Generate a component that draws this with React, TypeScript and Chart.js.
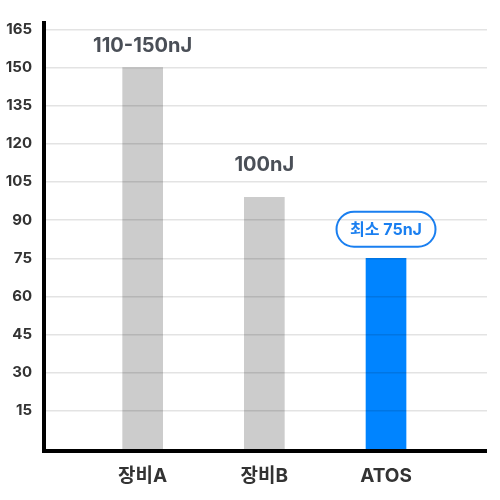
import React, { useEffect, useRef } from "react";
import { Chart, registerables } from "chart.js";

Chart.register(...registerables);

const categories = ["장비A", "장비B", "ATOS"];
const values = [150, 99, 75];
const valueLabels = ["110-150nJ", "100nJ", "최소 75nJ"];
const yTicks = [15, 30, 45, 60, 75, 90, 105, 120, 135, 150, 165];

const FONT = "Inter, 'Noto Sans CJK KR', sans-serif";

const labelPlugin = {
  id: "valueLabels",
  afterDatasetsDraw(chart: any) {
    const ctx = chart.ctx;
    const meta = chart.getDatasetMeta(0);
    const gaps = [22, 32, 29];
    ctx.save();
    meta.data.forEach((bar: any, i: number) => {
      const x = bar.x;
      const y = bar.y - gaps[i];
      const text = valueLabels[i];
      if (i === 2) {
        ctx.font = `bold 16px ${FONT}`;
        const w = 99;
        const h = 35;
        const r = h / 2;
        ctx.beginPath();
        ctx.moveTo(x - w / 2 + r, y - h / 2);
        ctx.lineTo(x + w / 2 - r, y - h / 2);
        ctx.arc(x + w / 2 - r, y, r, -Math.PI / 2, Math.PI / 2);
        ctx.lineTo(x - w / 2 + r, y + h / 2);
        ctx.arc(x - w / 2 + r, y, r, Math.PI / 2, (3 * Math.PI) / 2);
        ctx.closePath();
        ctx.fillStyle = "#ffffff";
        ctx.fill();
        ctx.lineWidth = 2;
        ctx.strokeStyle = "#1a7ff0";
        ctx.stroke();
        ctx.fillStyle = "#1a7ff0";
        ctx.textAlign = "center";
        ctx.textBaseline = "middle";
        ctx.fillText(text, x, y + 1);
      } else {
        ctx.font = `bold 20px ${FONT}`;
        ctx.fillStyle = "#4a4f57";
        ctx.textAlign = "center";
        ctx.textBaseline = "middle";
        ctx.fillText(text, x, y);
      }
    });
    ctx.restore();
  },
  afterDraw(chart: any) {
    const { ctx, chartArea } = chart;
    ctx.save();
    ctx.fillStyle = "#000000";
    ctx.fillRect(chartArea.left - 2, chartArea.top, 4, chartArea.bottom - chartArea.top + 4);
    ctx.fillRect(chartArea.left - 2, chartArea.bottom, chartArea.right - chartArea.left + 2, 4);
    ctx.restore();
  },
};

export default function App() {
  const ref = useRef<HTMLCanvasElement | null>(null);
  useEffect(() => {
    if (!ref.current) return;
    const chart = new Chart(ref.current, {
      type: "bar",
      data: {
        datasets: [
          {
            data: values.map((v, i) => ({ x: i, y: v })),
            backgroundColor: ["#cccccc", "#cccccc", "#0084ff"],
            barThickness: 40,
          },
        ],
      },
      options: {
        animation: false,
        responsive: false,
        devicePixelRatio: 1,
        layout: { padding: { left: 0, top: 17, right: 13, bottom: 0 } },
        plugins: { legend: { display: false }, tooltip: { enabled: false } },
        scales: {
          x: {
            type: "linear",
            min: -0.811,
            max: 2.83,
            offset: false,
            bounds: "data",
            grid: { display: false, drawTicks: false, offset: false },
            border: { display: false },
            afterBuildTicks: (scale: any) => {
              scale.ticks = categories.map((_, i) => ({ value: i }));
            },
            afterFit: (scale: any) => {
              scale.height = 51;
            },
            ticks: {
              padding: 16,
              color: "#333333",
              font: { family: FONT, size: 19, weight: "bold" },
              callback: (v: any) => categories[v as number] ?? "",
            },
          },
          y: {
            min: 0,
            max: 168.3,
            grid: { color: "rgba(0,0,0,0.11)", lineWidth: 1.5, drawTicks: false, z: 1 },
            border: { display: false },
            afterBuildTicks: (scale: any) => {
              scale.ticks = yTicks.map((v) => ({ value: v }));
            },
            afterFit: (scale: any) => {
              scale.width = 44;
            },
            ticks: {
              padding: 12,
              color: "#333333",
              font: { family: FONT, size: 15, weight: "bold" },
            },
          },
        },
      },
      plugins: [labelPlugin],
    } as any);
    return () => chart.destroy();
  }, []);
  return (
    <div style={{ position: "fixed", left: 0, top: 0, width: 500, height: 500, background: "#fff" }}>
      <canvas ref={ref} width={500} height={500} style={{ width: 500, height: 500 }} />
    </div>
  );
}
